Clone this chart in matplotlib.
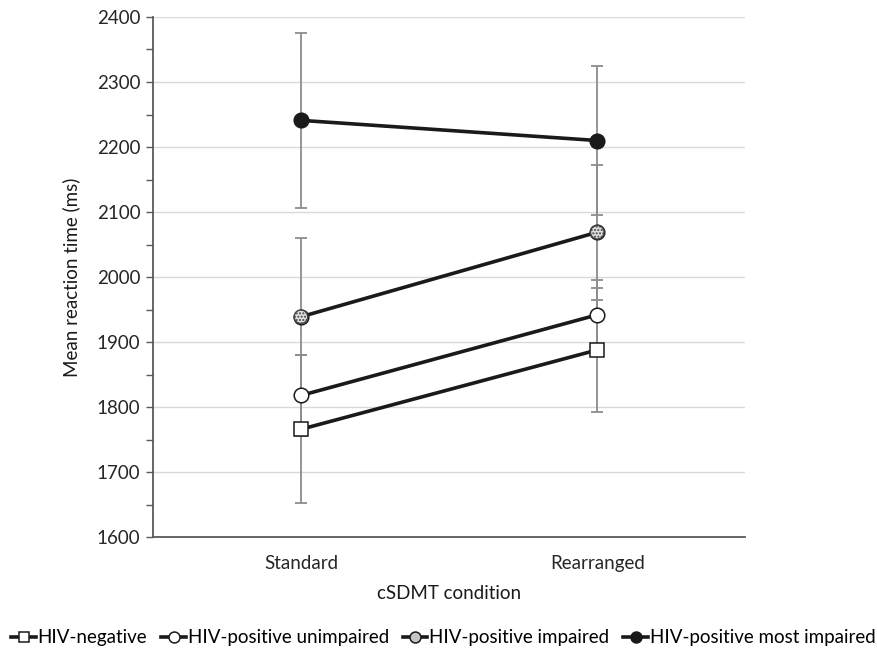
import matplotlib.pyplot as plt
from matplotlib.ticker import MultipleLocator

plt.rcParams['font.family'] = ['Lato', 'DejaVu Sans']

# data
conditions = ['Standard', 'Rearranged']
groups = ['HIV-negative', 'HIV-positive unimpaired', 'HIV-positive impaired', 'HIV-positive most impaired']
means = [
    [1766, 1888],
    [1818, 1942],
    [1939, 2069],
    [2241, 2210],
]
errors = [
    [114, 96],
    [62, 53],
    [121, 104],
    [135, 114],
]
markers = ['s', 'o', 'o', 'o']
facecolors = ['white', 'white', '#c4c4c4', '#1a1a1a']

fig = plt.figure(figsize=(8.78, 6.52), dpi=100)
ax = fig.add_axes([0.174, 0.176, 0.675, 0.798])

x = list(range(len(conditions)))

# error bars first so the markers sit on top
for m, e in zip(means, errors):
    ax.errorbar(x, m, yerr=e, fmt='none', ecolor='#8c8c8c', elinewidth=1.3,
                capsize=4, capthick=1.3, zorder=2)

for g, m, mk, fc in zip(groups, means, markers, facecolors):
    ax.plot(x, m, color='#1a1a1a', linewidth=2.6, marker=mk, markersize=10.5,
            markerfacecolor=fc, markeredgecolor='#1a1a1a', markeredgewidth=1.1,
            label=g, zorder=3)

# dotted fill for the impaired group
ax.scatter(x, means[2], s=95, marker='o', facecolor='#e0e0e0', edgecolor='#444444',
           hatch='.....', linewidth=1.0, zorder=4)

ax.set_xlim(-0.5, 1.5)
ax.set_ylim(1600, 2400)
ax.set_xticks(x)
ax.set_xticklabels(conditions, fontsize=13.5, color='#262626')
ax.yaxis.set_major_locator(MultipleLocator(100))
ax.yaxis.set_minor_locator(MultipleLocator(50))
ax.tick_params(axis='y', which='both', direction='out', length=5, width=1,
               color='#595959', labelsize=13.5, labelcolor='#262626', pad=4)
ax.tick_params(axis='x', length=0, pad=13)

ax.grid(axis='y', color='#d9d9d9', linewidth=1)
ax.set_axisbelow(True)
for s in ['top', 'right']:
    ax.spines[s].set_visible(False)
ax.spines['left'].set_color('#595959')
ax.spines['bottom'].set_color('#595959')
ax.spines['left'].set_linewidth(1.3)
ax.spines['bottom'].set_linewidth(1.3)

ax.set_ylabel('Mean reaction time (ms)', fontsize=13.5, color='#1a1a1a', labelpad=12)
ax.set_xlabel('cSDMT condition', fontsize=13.5, color='#1a1a1a', labelpad=9)

fig.legend(loc='center', bbox_to_anchor=(0.505, 0.022), ncol=4, frameon=False,
           fontsize=13.5, handlelength=1.3, handletextpad=0.1, columnspacing=0.75,
           markerscale=0.75)

fig.savefig('out.png', dpi=100)
